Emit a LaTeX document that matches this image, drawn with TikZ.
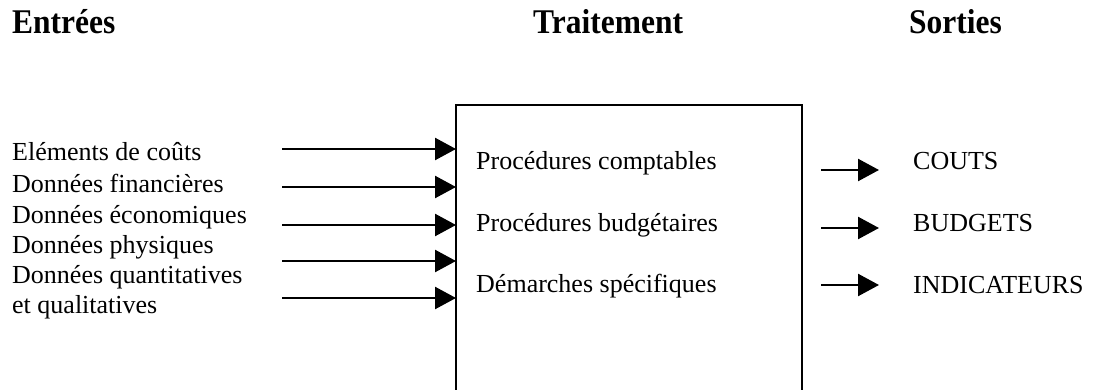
\documentclass[tikz,border=0pt]{standalone}
\usepackage{fontspec}
\setmainfont{Liberation Serif}
\usetikzlibrary{arrows.meta}
\newcommand{\tallhead}[1]{\scalebox{1}[1.1]{#1}}
\begin{document}
\begin{tikzpicture}[x=1pt,y=-1pt,
  head/.style={font=\bfseries\fontsize{31.5}{36}\selectfont, anchor=base west, inner sep=0pt},
  txt/.style={font=\fontsize{26}{30}\selectfont, anchor=base west, inner sep=0pt},
  arr/.style={line width=2.4pt, -{Triangle[length=21pt,width=22pt]}},
  boxstyle/.style={draw, line width=2.2pt, rectangle, anchor=north west,
    minimum width=346pt, minimum height=320pt, inner sep=0pt, outer sep=0pt}]
\useasboundingbox (0,0) rectangle (1100,390);

% column headings
\node[head] (hin)  at (12,34)  {\tallhead{Entrées}};
\node[head] (hpro) at (533,34) {\tallhead{Traitement}};
\node[head] (hout) at (909,34) {\tallhead{Sorties}};

% processing block (runs off the lower edge)
\node[boxstyle] (box) at (456,105) {};

% inputs
\node[txt] (e1) at (12,161) {Eléments de coûts};
\node[txt] (e2) at (12,193) {Données financières};
\node[txt] (e3) at (12,223) {Données économiques};
\node[txt] (e4) at (12,253) {Données physiques};
\node[txt] (e5) at (12,283) {Données quantitatives};
\node[txt] (e6) at (12,313) {et qualitatives};

\foreach \i/\y in {1/149,2/187,3/225,4/261,5/298}{
  \coordinate (in\i) at (282,\y);
  \draw[arr] (in\i) -- (in\i -| box.west);
}

% processing steps
\node[txt] (p1) at (476,170) {Procédures comptables};
\node[txt] (p2) at (476,231) {Procédures budgétaires};
\node[txt] (p3) at (476,292) {Démarches spécifiques};

% outputs
\node[txt] (s1) at (913,170) {COUTS};
\node[txt] (s2) at (913,231) {BUDGETS};
\node[txt] (s3) at (913,293) {INDICATEURS};

\foreach \i/\y in {1/170,2/228,3/285}{
  \coordinate (os\i) at (821,\y);
  \coordinate (oe\i) at (879,\y);
  \draw[arr] (os\i) -- (oe\i);
}
\end{tikzpicture}
\end{document}
